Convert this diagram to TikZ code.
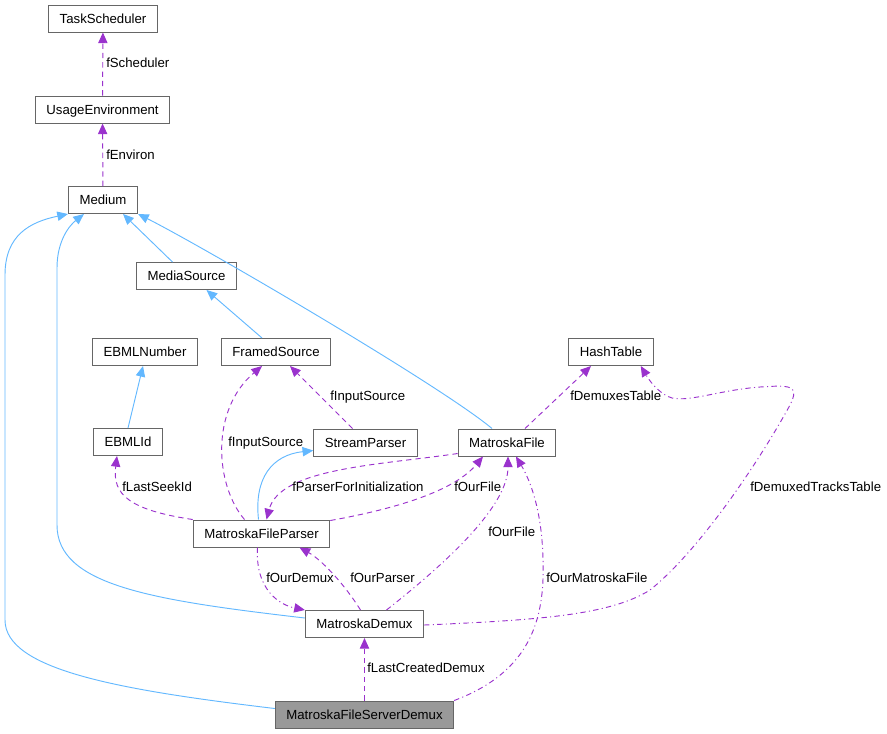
\documentclass[tikz,border=0pt]{standalone}
\usepackage{fontspec}
\setmainfont{Liberation Sans}
\usepackage{tikz}
\usetikzlibrary{arrows.meta,calc}
\definecolor{edgeblue}{HTML}{63B8FF}
\definecolor{edgepurple}{HTML}{9A32CD}
\definecolor{boxgray}{HTML}{666666}
\definecolor{curfill}{HTML}{999999}

\begin{document}
\begin{tikzpicture}[x=0.75pt,y=-0.75pt,>={Triangle[length=8pt,width=7pt]},
  font=\fontsize{9.9}{12}\selectfont,
  cls/.style={draw=boxgray,line width=0.75pt,fill=white,minimum height=20.25pt,inner xsep=8.3pt,inner ysep=0pt,text height=7.2pt,text depth=0.3pt},
  cur/.style={cls,fill=curfill},
  inh/.style={->,draw=edgeblue,line width=0.7pt},
  use/.style={->,draw=edgepurple,line width=0.7pt,dash pattern=on 4pt off 3pt},
  usedot/.style={use,dash pattern=on 4pt off 2.5pt on 0.8pt off 2.5pt},
  lbl/.style={anchor=west,inner sep=0pt,text height=7.2pt,text depth=0.3pt}]
\useasboundingbox (0,0) rectangle (887,733);

% classes
\node[cls] (taskScheduler) at (103,18.5) {TaskScheduler};
\node[cls] (usageEnv) at (102.5,109.5) {UsageEnvironment};
\node[cls] (medium) at (103,200) {Medium};
\node[cls] (mediaSource) at (186.5,276) {MediaSource};
\node[cls] (ebmlNumber) at (145,352) {EBMLNumber};
\node[cls] (framedSource) at (276,352) {FramedSource};
\node[cls] (hashTable) at (611,352) {HashTable};
\node[cls] (ebmlId) at (128,442) {EBMLId};
\node[cls] (streamParser) at (365.5,442.5) {StreamParser};
\node[cls] (mkvFile) at (507,442.5) {MatroskaFile};
\node[cls] (mkvParser) at (261.5,533.5) {MatroskaFileParser};
\node[cls] (mkvDemux) at (364.5,624) {MatroskaDemux};
\node[cur] (serverDemux) at (364.5,714.5) {MatroskaFileServerDemux};

% inheritance
\draw[inh] ($(serverDemux.west)+(0,-6)$) .. controls (120,690) and (5,670) .. (5,620)
  -- (5,275) .. controls (5,235) and (30,222) .. (medium.south west);
\draw[inh] ($(mkvDemux.west)+(0,-6)$) .. controls (150,600) and (57,585) .. (57,525)
  -- (57,268) .. controls (57,240) and (70,225) .. ($(medium.south west)+(16,0)$);
\draw[inh] ($(mediaSource.north)+(-14,0)$) -- ($(medium.south)+(20,0)$);
\draw[inh] ($(mkvFile.north)+(-15,0)$) .. controls (440,385) and (200,245) .. (medium.south east);
\draw[inh] ($(framedSource.north)+(-14,0)$) -- ($(mediaSource.south)+(20,0)$);
\draw[inh] (ebmlId.north) -- ($(ebmlNumber.south)+(-2,0)$);
\draw[inh] ($(mkvParser.north)+(-3,0)$) .. controls (254,478) and (272,455) .. ($(streamParser.west)+(0,8)$);

% usage
\draw[use] (usageEnv) -- (taskScheduler);
\node[lbl] (lScheduler) at (106,63) {fScheduler};
\draw[use] (medium) -- (usageEnv);
\node[lbl] (lEnviron) at (106,155) {fEnviron};

\draw[use] ($(streamParser.north)+(-13,0)$) -- ($(framedSource.south)+(14,0)$);
\node[lbl] (lInputA) at (330,396) {fInputSource};
\draw[use] ($(mkvParser.north)+(-17,0)$) .. controls (215,485) and (210,410) .. ($(framedSource.south)+(-14,0)$);
\node[lbl] (lInputB) at (228,442) {fInputSource};

\draw[use] (mkvParser.north west) .. controls (130,510) and (112,495) .. ($(ebmlId.south)+(-11,0)$);
\node[lbl] (lSeekId) at (122,487) {fLastSeekId};

\draw[use] ($(mkvFile.south west)+(0,-3)$) .. controls (380,465) and (280,468) .. ($(mkvParser.north)+(5,0)$);
\node[lbl] (lParserInit) at (292,487) {fParserForInitialization};
\draw[use] ($(mkvParser.north east)+(0,1)$) .. controls (400,508) and (455,490) .. ($(mkvFile.south)+(-24,0)$);
\node[lbl] (lOurFileA) at (454,487) {fOurFile};

\draw[usedot] ($(mkvDemux.north)+(22,0)$) .. controls (450,560) and (508,505) .. ($(mkvFile.south)+(1,0)$);
\node[lbl] (lOurFileB) at (488,532) {fOurFile};
\draw[usedot] (serverDemux.north east) .. controls (530,672) and (545,620) .. (543,560)
  .. controls (542,510) and (530,480) .. ($(mkvFile.south)+(9,0)$);
\node[lbl] (lOurMkv) at (546,578) {fOurMatroskaFile};

\draw[usedot] ($(mkvParser.south)+(-4,0)$) .. controls (255,590) and (280,605) .. (mkvDemux.north west);
\node[lbl] (lOurDemux) at (266,578) {fOurDemux};
\draw[use] ($(mkvDemux.north)+(-4,0)$) .. controls (345,585) and (322,560) .. ($(mkvParser.south)+(38,0)$);
\node[lbl] (lOurParser) at (350,578) {fOurParser};

\draw[use] (serverDemux) -- (mkvDemux);
\node[lbl] (lLastDemux) at (367,668) {fLastCreatedDemux};

\draw[use] ($(mkvFile.north)+(18,0)$) -- ($(hashTable.south)+(-20,0)$);
\node[lbl] (lDemuxes) at (570,396) {fDemuxesTable};
\draw[usedot] ($(mkvDemux.east)+(0,1)$) .. controls (540,620) and (610,615) .. (650,590)
  .. controls (700,550) and (760,460) .. (790,405) .. controls (800,385) and (790,385) .. (760,387)
  .. controls (720,390) and (690,402) .. (672,398) .. controls (662,395) and (652,385) .. ($(hashTable.south east)+(-13,0)$);
\node[lbl] (lTracks) at (750,487) {fDemuxedTracksTable};
\end{tikzpicture}
\end{document}
